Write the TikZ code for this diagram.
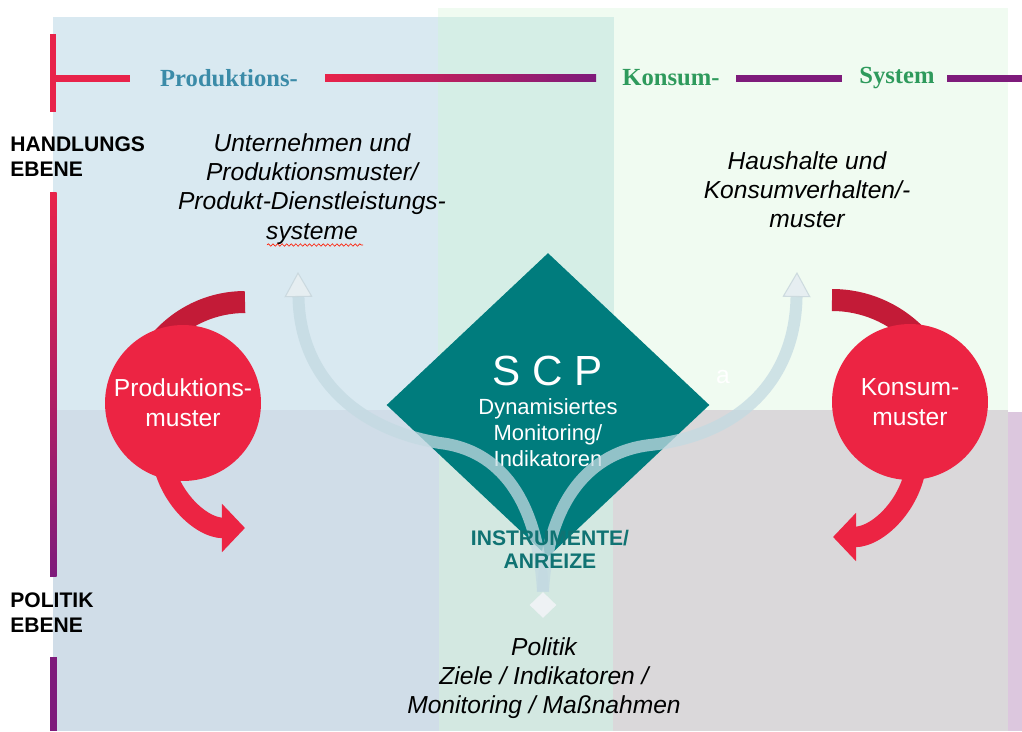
\documentclass[tikz,border=0pt]{standalone}
\usepackage{fontspec}
\setmainfont{Liberation Sans}
\newfontfamily\headserif{Liberation Serif}
\usetikzlibrary{arrows.meta,positioning,calc,shapes.geometric,decorations.pathmorphing}

\definecolor{topblue}{HTML}{D9E9F1}
\definecolor{topgreen}{HTML}{F0FBF1}
\definecolor{midmint}{HTML}{D5EEE6}
\definecolor{lowblue}{HTML}{D0DDE8}
\definecolor{lowmint}{HTML}{D3E8E1}
\definecolor{lowgrey}{HTML}{DAD8DA}
\definecolor{lowlilac}{HTML}{DCC7DE}
\definecolor{linered}{HTML}{E8234A}
\definecolor{lineviolet}{HTML}{7E1B7B}
\definecolor{prodblue}{HTML}{3B8BA8}
\definecolor{konsgreen}{HTML}{2E9A5C}
\definecolor{circred}{HTML}{EC2443}
\definecolor{arcdark}{HTML}{C31B37}
\definecolor{scpteal}{HTML}{007C7D}
\definecolor{instrteal}{HTML}{107373}
\definecolor{flowband}{HTML}{C3DAE2}
\definecolor{flowtip}{HTML}{E6EEF1}
\definecolor{flowedge}{HTML}{C4D3D9}
\definecolor{tailgrey}{HTML}{EEF2F4}

\begin{document}
\begin{tikzpicture}[x=0.02cm,y=-0.02cm,
  rulebar/.style={line width=0.14cm},
  head/.style={font=\headserif\bfseries\fontsize{14}{16}\selectfont,inner sep=0pt},
  ebene/.style={font=\bfseries\fontsize{12}{14.2}\selectfont,align=left,anchor=west,inner sep=0pt},
  actor/.style={font=\itshape\fontsize{14}{16.6}\selectfont,align=center,inner sep=0pt},
  mustercirc/.style={circle,fill=circred,minimum size=3.12cm,inner sep=0pt,align=center,text=white,font=\fontsize{14}{17}\selectfont},
  cyclearc/.style={line width=0.44cm},
  cyclehead/.style={line width=0.41cm,circred,-{Triangle[width=0.94cm,length=0.46cm]}},
  flowarrow/.style={line width=0.24cm,draw=flowband,draw opacity=0.75,-{Triangle[width=0.56cm,length=0.5cm,line width=0.6pt,color=flowedge,fill=flowtip]}},
  squiggle/.style={red!80!orange,line width=0.35pt,decorate,decoration={snake,amplitude=0.7pt,segment length=2.6pt}}
]
\useasboundingbox (0,0) rectangle (1022,731);
\fill[topblue] (53,17) rectangle (614,410);
\fill[topgreen] (438,8) rectangle (1008,410);
\fill[midmint] (438,17) rectangle (614,410);
\fill[lowblue] (53,410) rectangle (439,731);
\fill[lowmint] (439,410) rectangle (613,731);
\fill[lowgrey] (613,410) rectangle (1008,731);
\fill[lowlilac] (1008,412) rectangle (1022,731);

\node[head,text=prodblue] (prodhead) at (229,78) {Produktions-};
\node[head,text=konsgreen] (konshead) at (671,78) {Konsum-};
\node[head,text=konsgreen] (systhead) at (897,78) {System};
\draw[rulebar,linered] (53,34) -- (53,112);
\draw[rulebar,linered] (53,78) -- (130,78);
\shade[left color=linered,right color=lineviolet] (325,74.5) rectangle (596,81.5);
\draw[rulebar,lineviolet] (736,78) -- (842,78);
\draw[rulebar,lineviolet] (947,78) -- (1022,78);
\shade[top color=linered,bottom color=lineviolet] (50,192) rectangle (56.5,576);
\fill[lineviolet] (50,657) rectangle (56.5,731);

\node[ebene] (handlung) at (10,157) {HANDLUNGS\\EBENE};
\node[ebene] (politebene) at (10,613) {POLITIK\\EBENE};

\node[actor] (unternehmen) at (312,189) {Unternehmen und\\Produktionsmuster/\\Produkt-Dienstleistungs-\\systeme};
\draw[squiggle] (267,245) -- (363,245);
\node[actor] (haushalte) at (807,190) {Haushalte und\\Konsumverhalten/-\\muster};

\coordinate (prodturn) at (245,414);
\coordinate (prodlow) at (245,444);
\coordinate (konsturn) at (832,418);
\coordinate (konslow) at (833,453);
\draw[cyclearc,arcdark] (prodturn) ++(0,-112) arc[start angle=90,end angle=180,radius=2.24cm];
\draw[cyclehead] (prodlow) ++(-84,0) arc[start angle=180,end angle=270,radius=1.68cm];
\draw[cyclearc,arcdark] (konsturn) ++(0,-118) arc[start angle=90,end angle=0,radius=2.36cm];
\draw[cyclehead] (konslow) ++(84,0) arc[start angle=0,end angle=-90,radius=1.68cm];
\node[mustercirc] (prodmuster) at (183,403) {Produktions-\\muster};
\node[mustercirc] (konsmuster) at (910,402) {Konsum-\\muster};

\node[diamond,fill=scpteal,minimum width=6.46cm,minimum height=6.08cm,inner sep=0pt] (scp) at (548,405) {};
\node[text=white,font=\fontsize{24}{28}\selectfont,inner sep=0pt,anchor=base] (scptitle) at (548,385) {S C P};
\node[text=white,font=\fontsize{12.5}{14.8}\selectfont,align=center,inner sep=0pt] (scpsub) at (548,433) {Dynamisiertes\\Monitoring/\\Indikatoren};
\node[text=white,font=\fontsize{14}{16}\selectfont,inner sep=0pt,anchor=base] (stray) at (723,383) {a};

\node[diamond,fill=tailgrey,minimum width=0.54cm,minimum height=0.52cm,inner sep=0pt] (tail) at (543,605) {};
\coordinate (prodtip) at (298,272);
\coordinate (konstip) at (797,272);
\draw[flowarrow] (tail.north) .. controls (538,500) and (500,450) .. (440,443) .. controls (360,430) and (300,380) .. (prodtip);
\draw[flowarrow] (tail.north) .. controls (548,500) and (590,452) .. (650,445) .. controls (740,435) and (795,380) .. (konstip);

\node[font=\bfseries\fontsize{12}{13.1}\selectfont,text=instrteal,align=center,inner sep=0pt] (instr) at (550,549) {INSTRUMENTE/\\ANREIZE};
\node[actor] (politik) at (544,678) {Politik\\Ziele / Indikatoren /\\Monitoring / Maßnahmen};
\end{tikzpicture}
\end{document}
